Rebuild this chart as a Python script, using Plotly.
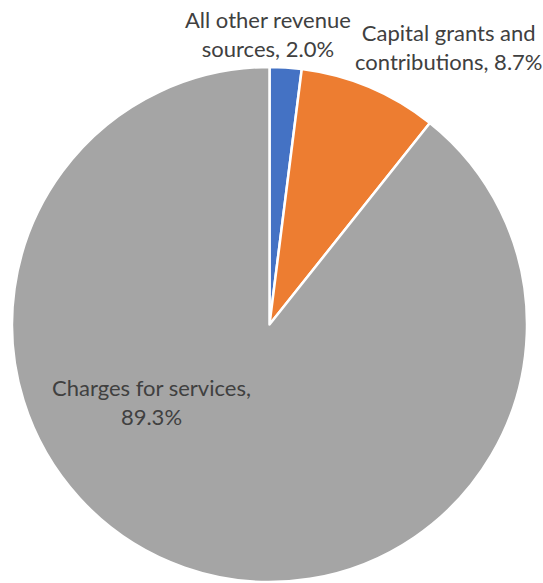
import plotly.graph_objects as go

# Revenue breakdown by source
categories = ["All other revenue sources", "Capital grants and contributions", "Charges for services"]
shares = [2.0, 8.7, 89.3]
colors = ["#4472C4", "#ED7D31", "#A5A5A5"]
label_text = [
    "All other revenue<br>sources, {:.1f}%",
    "Capital grants and<br>contributions, {:.1f}%",
    "Charges for services,<br>{:.1f}%",
]
# label anchor points (paper coords)
label_pos = [(268 / 543, 1 - 34 / 583), (448 / 543, 1 - 47 / 583), (151 / 543, 1 - 402 / 583)]

W, H = 543, 583

fig = go.Figure(
    go.Pie(
        labels=categories,
        values=shares,
        sort=False,
        direction="clockwise",
        rotation=0,
        marker=dict(colors=colors, line=dict(color="white", width=2.5)),
        textinfo="none",
        hoverinfo="label+percent",
        domain=dict(x=[11 / W, 528 / W], y=[1 / H, 516 / H]),
        showlegend=False,
    )
)

for txt, v, (x, y) in zip(label_text, shares, label_pos):
    fig.add_annotation(
        x=x, y=y, xref="paper", yref="paper",
        text=txt.format(v), showarrow=False,
        xanchor="center", yanchor="middle", align="center",
        font=dict(family="Lato, Noto Sans, sans-serif", size=22, color="#404040"),
    )

fig.update_layout(
    width=W, height=H,
    margin=dict(l=0, r=0, t=0, b=0),
    paper_bgcolor="white",
    plot_bgcolor="white",
)

fig.write_html("out.html")
